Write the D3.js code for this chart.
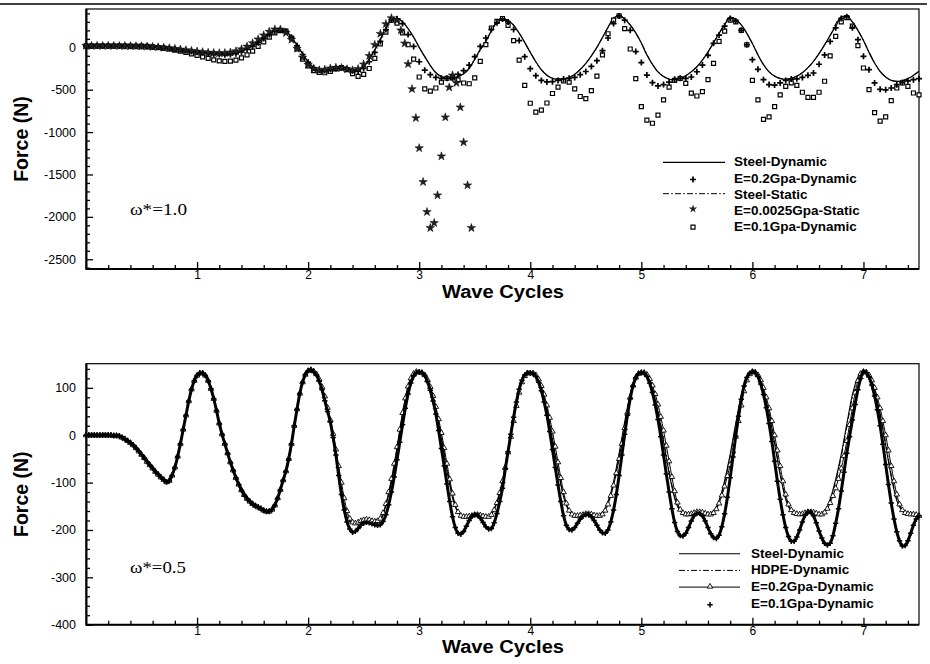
<!DOCTYPE html>
<html lang="en">
<head>
<meta charset="utf-8">
<title>Force vs Wave Cycles</title>
<script src="https://cdn.jsdelivr.net/npm/d3@7"></script>
<style>
  body { margin: 0; background: #fff; }
</style>
</head>
<body>
<script>
// ---------------- data ----------------
// upper panel (omega* = 1.0), sampled every 0.05 wave cycles
var stepTop = 0.05;
var steelDynTop = [
  15,15,15,15,15,15,15,14,14,13,  12,10,7,3,-3,-10,-18,-26,-34,-42,
  -50,-57,-63,-68,-72,-74,-72,-62,-45,-18,  18,62,110,155,190,205,190,118,25,-75,
  -170,-240,-275,-282,-270,-255,-245,-250,-265,-270,  -230,-135,-30,90,220,330,338,300,220,120,
  0,-110,-215,-300,-345,-362,-360,-345,-312,-250,  -140,-25,70,195,295,337,318,258,168,58,
  -60,-170,-265,-330,-365,-376,-374,-355,-318,-262,  -190,-100,0,115,235,345,375,335,263,170,
  50,-90,-200,-290,-345,-375,-386,-370,-335,-288,  -229,-150,-55,55,165,265,355,330,265,165,
  45,-90,-205,-290,-340,-368,-375,-365,-340,-300,  -240,-165,-75,30,140,250,360,370,300,200,
  80,-60,-185,-285,-350,-390,-401,-395,-370,-330,  -283
];
var e02Top = [
  15,16,16,16,16,15,15,14,13,12,  10,7,4,0,-6,-13,-21,-30,-39,-48,
  -57,-65,-73,-80,-85,-88,-86,-75,-55,-25,  12,55,105,150,190,208,188,120,20,-85,
  -175,-240,-268,-272,-262,-250,-245,-255,-275,-280,  -250,-170,-60,70,210,325,335,280,150,10,
  -170,-270,-323,-355,-365,-365,-360,-320,-275,-210,  -110,10,110,210,290,335,300,210,80,-110,
  -252,-335,-390,-408,-405,-390,-374,-365,-355,-323,  -285,-225,-158,-40,110,280,370,320,200,-50,
  -180,-327,-417,-456,-440,-410,-378,-366,-366,-350,  -288,-209,-95,47,145,250,340,310,200,30,
  -146,-260,-382,-440,-445,-420,-390,-375,-372,-355,  -330,-303,-200,-90,70,230,340,360,230,90,
  -106,-264,-420,-495,-502,-480,-441,-415,-395,-382,  -370
];
var e01Top = [
  18,18,18,18,18,18,17,16,15,14,  13,10,5,-2,-10,-20,-32,-45,-60,-78,
  -95,-112,-130,-147,-160,-165,-163,-150,-125,-90,  -45,10,65,120,170,196,190,110,-20,-140,
  -220,-275,-295,-300,-285,-255,-240,-262,-310,-342,  -320,-250,-130,40,180,320,285,170,30,-140,
  -350,-490,-517,-480,-410,-365,-360,-385,-421,-430,  -360,-166,31,228,307,340,260,80,-150,-450,
  -660,-765,-740,-657,-545,-470,-395,-410,-490,-580,  -605,-510,-340,-90,160,320,370,220,-20,-370,
  -700,-860,-896,-800,-621,-470,-390,-368,-425,-540,  -574,-523,-380,-190,70,190,320,300,200,30,
  -390,-620,-850,-820,-700,-560,-460,-420,-450,-530,  -590,-590,-530,-400,-100,130,300,350,250,20,
  -244,-500,-770,-870,-820,-630,-480,-421,-460,-539,  -560
];
// steel static, every 0.1 cycles
var stepStatic = 0.1;
var steelStaticTop = [
  15,15,15,15,14,12,7,-3,-18,-34,
  -50,-63,-72,-72,-45,18,110,190,190,25,
  -170,-275,-270,-245,-265,-230,-30,220,338,220,
  0,-215,-345,-360,-312,-140,70,295,318,168,
  -60,-265,-365,-374,-318,-190,0,235,375,263,
  50,-200,-345,-386,-335,-229,-55,165,355,265,
  45,-205,-340,-375,-340,-240,-75,140,360,300,
  80,-185,-350,-401,-370,-283
];
// E=0.0025Gpa static diverges after the third cycle
var starT = [
  0,0.05,0.1,0.15,0.2,0.25,0.3,0.35,0.4,0.45,0.5,0.55,0.6,0.65,0.7,0.75,0.8,0.85,0.9,0.95,
  1,1.05,1.1,1.15,1.2,1.25,1.3,1.35,1.4,1.45,1.5,1.55,1.6,1.65,1.7,1.75,1.8,1.85,1.9,1.95,
  2,2.05,2.1,2.15,2.2,2.25,2.3,2.35,2.4,2.45,2.5,2.55,2.6,2.65,2.7,2.75,2.8,
  2.835,2.87,2.9,2.935,2.97,3,3.035,3.07,3.1,3.135,3.165,3.2,3.235,3.27,3.3,3.335,3.37,3.4,3.435,3.47
];
var starF = [
  18,18,18,18,18,18,17,16,15,14,  12,10,6,2,-4,-10,-17,-25,-33,-41,
  -49,-56,-62,-66,-68,-67,-60,-45,-22,10,  50,95,142,185,212,210,170,90,-15,-120,
  -205,-255,-270,-262,-248,-240,-243,-258,-270,-255,  -200,-100,30,160,275,345,320,
  200,47,-197,-492,-834,-1189,-1588,-1942,-2131,-2072,-1745,-1285,-825,-472,-330,-420,-708,-1120,-1627,-2131
];

// lower panel (omega* = 0.5)
var stepBot = 0.05;
var steelDynBot = [
  0,0,0,0,0,-1,-2,-8,-16,-27,-41,-56,-70,-83,-95,-97,-68,-18,42,97,
  126,131,115,77,25,-18,-57,-90,-116,-134,-145,-152,-159,-161,-148,-115,-76,-18,55,112,
  136,135,116,76,30,-36,-118,-172,-185,-184,-180,-179,-181,-178,-148,-97,-30,45,104,130,
  134,127,98,55,-8,-75,-132,-163,-171,-170,-168,-169,-171,-165,-140,-95,-28,40,96,127,
  132,126,97,53,-10,-75,-130,-160,-169,-169,-166,-167,-169,-163,-140,-98,-38,28,88,124,
  133,126,96,50,-14,-80,-133,-160,-167,-167,-163,-164,-167,-162,-138,-96,-40,25,85,122,
  135,126,94,46,-18,-84,-136,-160,-166,-166,-162,-163,-166,-160,-135,-93,-40,24,85,123,
  135,125,92,43,-22,-88,-138,-160,-166,-167,-170
];
var hdpeDynBot = [
  0,0,0,0,0,-1,-2,-8,-16,-27,-41,-56,-70,-83,-95,-97,-68,-18,42,97,
  126,131,115,77,25,-18,-57,-90,-116,-134,-145,-152,-159,-161,-148,-115,-76,-18,55,112,
  136,135,116,78,33,-32,-112,-168,-184,-184,-180,-179,-181,-179,-150,-100,-34,40,100,129,
  134,128,100,58,-3,-70,-128,-161,-171,-171,-168,-168,-171,-166,-142,-98,-32,35,92,125,
  132,127,99,56,-5,-70,-127,-159,-169,-169,-166,-166,-169,-164,-142,-101,-42,24,84,122,
  133,127,98,53,-9,-75,-130,-159,-167,-167,-163,-164,-167,-163,-140,-100,-45,20,80,120,
  135,127,96,49,-13,-79,-133,-159,-166,-166,-162,-163,-166,-161,-138,-97,-45,18,80,121,
  135,126,94,46,-17,-83,-135,-159,-166,-167,-170
];
// marker series, every 0.025 cycles
var stepFine = 0.025;
var e02Bot = [
  0,0,0,0,0,0,0,0,0,0,  -1,-1,-2,-5,-8,-12,-16,-21,-27,-34,
  -41,-48,-56,-63,-70,-77,-83,-89,-94,-99,  -96,-85,-68,-45,-18,12,42,72,97,115,
  126,131,131,126,115,98,77,52,25,2,  -18,-38,-57,-74,-90,-104,-116,-126,-134,-140,
  -145,-149,-152,-155,-159,-161,-161,-157,-148,-133,  -115,-95,-76,-50,-18,20,55,88,112,128,
  136,138,135,129,118,102,82,58,32,3,  -30,-65,-100,-133,-160,-176,-184,-186,-184,-181,
  -179,-178,-179,-181,-182,-181,-176,-164,-145,-120,  -92,-60,-25,12,47,78,103,120,130,134,
  133,132,127,117,102,83,60,34,5,-27,  -60,-93,-123,-147,-162,-170,-172,-172,-171,-170,
  -168,-168,-169,-171,-172,-172,-168,-158,-143,-122,  -97,-68,-36,-3,30,62,90,112,125,131,
  131,131,127,118,104,86,63,37,8,-24,  -57,-90,-120,-144,-159,-167,-170,-170,-169,-168,
  -166,-166,-167,-169,-170,-170,-167,-159,-146,-128,  -106,-80,-50,-18,15,48,80,105,122,130,
  132,132,128,119,105,87,65,39,10,-22,  -55,-88,-118,-142,-157,-164,-167,-167,-166,-164,
  -162,-162,-163,-165,-167,-167,-164,-156,-144,-127,  -108,-86,-62,-34,-3,30,63,93,116,129,
  134,133,127,116,100,80,57,30,0,-32,  -65,-97,-125,-146,-158,-164,-166,-167,-166,-164,
  -162,-162,-163,-165,-167,-167,-163,-155,-143,-128,  -112,-92,-70,-44,-12,22,57,90,115,130,
  134,133,127,116,100,80,57,30,0,-32,  -65,-97,-125,-146,-158,-164,-166,-167,-167,-168,-170
];
var e01Bot = [
  0,0,0,0,0,0,0,0,0,0,  -1,-1,-2,-5,-8,-12,-16,-21,-27,-34,
  -41,-48,-56,-63,-70,-77,-83,-89,-94,-99,  -96,-85,-68,-45,-18,12,42,72,97,115,
  126,131,131,126,115,98,77,52,25,2,  -18,-38,-57,-74,-90,-104,-116,-126,-134,-140,
  -145,-149,-152,-155,-159,-161,-161,-157,-148,-133,  -115,-95,-76,-50,-18,20,55,88,112,128,
  136,138,134,127,114,96,73,50,28,-5,  -42,-85,-125,-158,-183,-198,-205,-203,-197,-190,
  -186,-184,-185,-187,-189,-190,-189,-182,-168,-147,  -120,-88,-52,-15,22,57,87,110,125,132,
  133,132,126,113,95,72,45,10,-28,-65,  -103,-140,-172,-195,-207,-209,-203,-192,-180,-171,
  -168,-169,-175,-184,-193,-198,-197,-185,-165,-140,  -112,-72,-35,2,38,70,97,116,127,132,
  131,130,124,112,94,70,42,8,-30,-68,  -105,-140,-170,-190,-199,-200,-195,-186,-177,-171,
  -168,-168,-172,-180,-190,-200,-206,-207,-200,-183,  -158,-125,-85,-42,2,42,77,104,121,130,
  132,131,124,110,90,64,33,-3,-42,-82,  -120,-155,-184,-203,-212,-213,-207,-195,-181,-170,
  -165,-165,-170,-181,-195,-208,-216,-218,-211,-193,  -166,-131,-90,-46,-2,40,76,104,122,131,
  134,132,124,108,86,58,25,-13,-55,-97,  -135,-168,-195,-214,-224,-224,-215,-200,-183,-169,
  -162,-162,-170,-185,-202,-217,-228,-232,-228,-212,  -186,-155,-118,-78,-38,-3,32,65,96,120,
  134,132,123,106,83,54,20,-19,-62,-104,  -143,-177,-204,-223,-234,-233,-223,-207,-190,-177,-170
];

var xTicks = [1, 2, 3, 4, 5, 6, 7];
var yTicksTop = [0, -500, -1000, -1500, -2000, -2500];
var yTicksBot = [100, 0, -100, -200, -300, -400];

// ---------------- drawing ----------------
var width = 930, height = 664;
var sans = "'Liberation Sans', Arial, Helvetica, sans-serif";

var svg = d3.select("body").append("svg")
    .attr("width", width)
    .attr("height", height);

svg.append("rect").attr("width", width).attr("height", height).attr("fill", "#fff");

// page rule along the top
svg.append("line")
    .attr("x1", 0).attr("x2", 927)
    .attr("y1", 4).attr("y2", 4)
    .attr("stroke", "#000").attr("stroke-width", 1.5);

var x = d3.scaleLinear().domain([0, 7.5]).range([86, 919]);

function grid(step, n) {
    return d3.range(n).map(function(i){ return +(i * step).toFixed(4); });
}

function minorTicks(lo, hi, step, majors) {
    return d3.range(lo, hi + step / 2, step)
        .map(function(v){ return +v.toFixed(4); })
        .filter(function(v){ return majors.indexOf(v) < 0; });
}

function drawAxes(y, top, bottom, yMajor, yMinor) {
    var g = svg.append("g");
    // minor ticks first
    g.append("g").attr("transform", "translate(86,0)")
        .call(d3.axisLeft(y).tickValues(yMinor).tickSize(-4).tickFormat(""))
        .call(function(a){ a.select(".domain").remove(); });
    g.append("g").attr("transform", "translate(0," + bottom + ")")
        .call(d3.axisBottom(x).tickValues(minorTicks(0.2, 7.4, 0.2, xTicks)).tickSize(-4).tickFormat(""))
        .call(function(a){ a.select(".domain").remove(); });

    var ya = g.append("g").attr("transform", "translate(86,0)")
        .call(d3.axisLeft(y).tickValues(yMajor).tickSize(-7).tickPadding(10)
            .tickFormat(function(d){ return String(d); }));
    ya.select(".domain").remove();
    ya.selectAll("text").attr("font-size", 12.5).attr("font-family", sans).attr("fill", "#000");

    var xa = g.append("g").attr("transform", "translate(0," + bottom + ")")
        .call(d3.axisBottom(x).tickValues(xTicks).tickSize(-7).tickPadding(1.5));
    xa.select(".domain").remove();
    xa.selectAll("text").attr("font-size", 12).attr("font-family", sans).attr("fill", "#000");

    g.selectAll(".tick line").attr("stroke", "#000").attr("stroke-width", 1.3);

    // frame
    g.append("rect")
        .attr("x", 86).attr("y", top)
        .attr("width", 833).attr("height", bottom - top)
        .attr("fill", "none").attr("stroke", "#000").attr("stroke-width", 1.2);
    g.append("line").attr("x1", 86.5).attr("x2", 86.5).attr("y1", top).attr("y2", bottom + 1)
        .attr("stroke", "#000").attr("stroke-width", 2);
    g.append("line").attr("x1", 86).attr("x2", 919).attr("y1", bottom).attr("y2", bottom)
        .attr("stroke", "#000").attr("stroke-width", 2);

    svg.append("text")
        .attr("x", 503).attr("y", bottom + 28.5)
        .attr("text-anchor", "middle")
        .attr("font-family", sans).attr("font-weight", "bold")
        .attr("font-size", 17.5)
        .attr("textLength", 122).attr("lengthAdjust", "spacingAndGlyphs")
        .text("Wave Cycles");
    svg.append("text")
        .attr("transform", "translate(28," + ((top + bottom) / 2) + ") rotate(-90)")
        .attr("text-anchor", "middle")
        .attr("font-family", sans).attr("font-weight", "bold")
        .attr("font-size", 19.5)
        .text("Force (N)");
}

function lineOf(y, ts) {
    return d3.line()
        .x(function(d, i){ return x(ts[i]); })
        .y(function(d){ return y(d); })
        .curve(d3.curveMonotoneX);
}

function plusMarks(g, y, ts, vs, r, w) {
    g.append("g").selectAll("path").data(vs).join("path")
        .attr("transform", function(d, i){ return "translate(" + x(ts[i]) + "," + y(d) + ")"; })
        .attr("d", "M" + (-r) + ",0H" + r + "M0," + (-r) + "V" + r)
        .attr("fill", "none").attr("stroke", "#000").attr("stroke-width", w);
}

function symbolMarks(g, y, ts, vs, type, size, fill, w) {
    g.append("g").selectAll("path").data(vs).join("path")
        .attr("transform", function(d, i){ return "translate(" + x(ts[i]) + "," + y(d) + ")"; })
        .attr("d", d3.symbol(type, size)())
        .attr("fill", fill).attr("stroke", "#000").attr("stroke-width", w);
}

function legendText(g, tx, ty, label) {
    g.append("text").attr("x", tx).attr("y", ty + 5)
        .attr("font-family", sans).attr("font-weight", "bold").attr("font-size", 13.5)
        .text(label);
}

var dashDot = "6,2.2,1.6,2.2";

// ===== upper panel =====
var topY0 = 9, topY1 = 269;
var yTop = d3.scaleLinear().domain([-2615, 452]).range([topY1, topY0]);
drawAxes(yTop, topY0, topY1, yTicksTop, minorTicks(-2600, 400, 100, yTicksTop));

var tTop = grid(stepTop, steelDynTop.length);
var tStatic = grid(stepStatic, steelStaticTop.length);
var gTop = svg.append("g");

gTop.append("path").datum(steelStaticTop)
    .attr("d", lineOf(yTop, tStatic))
    .attr("fill", "none").attr("stroke", "#000").attr("stroke-width", 1)
    .attr("stroke-dasharray", dashDot);
gTop.append("path").datum(steelDynTop)
    .attr("d", lineOf(yTop, tTop))
    .attr("fill", "none").attr("stroke", "#000").attr("stroke-width", 1.3);
symbolMarks(gTop, yTop, tTop, e01Top, d3.symbolSquare, 16, "#fff", 1.2);
plusMarks(gTop, yTop, tTop, e02Top, 3, 1.7);
symbolMarks(gTop, yTop, starT, starF, d3.symbolStar, 22, "#222", 0.5);

svg.append("text").attr("x", 130).attr("y", 215)
    .attr("font-family", "'Liberation Serif', 'Times New Roman', serif")
    .attr("font-size", 17).attr("textLength", 57).attr("lengthAdjust", "spacingAndGlyphs")
    .text("ω*=1.0");

// legend, upper panel
var lgTop = svg.append("g");
var rowsTop = [161.3, 177.5, 193.7, 209.9, 226.1];
var namesTop = ["Steel-Dynamic", "E=0.2Gpa-Dynamic", "Steel-Static", "E=0.0025Gpa-Static", "E=0.1Gpa-Dynamic"];
namesTop.forEach(function(n, i){ legendText(lgTop, 734, rowsTop[i], n); });
lgTop.append("line").attr("x1", 663).attr("x2", 725).attr("y1", rowsTop[0] + 1).attr("y2", rowsTop[0] + 1)
    .attr("stroke", "#000").attr("stroke-width", 1.2);
lgTop.append("path").attr("transform", "translate(693," + (rowsTop[1] + 2) + ")")
    .attr("d", "M-3,0H3M0,-3V3").attr("stroke", "#000").attr("stroke-width", 1.7);
lgTop.append("line").attr("x1", 663).attr("x2", 725).attr("y1", rowsTop[2]).attr("y2", rowsTop[2])
    .attr("stroke", "#000").attr("stroke-width", 1).attr("stroke-dasharray", dashDot);
lgTop.append("path").attr("transform", "translate(693," + (rowsTop[3] - 1) + ")")
    .attr("d", d3.symbol(d3.symbolStar, 22)()).attr("fill", "#222");
lgTop.append("path").attr("transform", "translate(693," + (rowsTop[4] + 1) + ")")
    .attr("d", d3.symbol(d3.symbolSquare, 16)()).attr("fill", "#fff").attr("stroke", "#000").attr("stroke-width", 1.2);

// ===== lower panel =====
var botY0 = 363.7, botY1 = 624.7;
var yBot = d3.scaleLinear().domain([-400, 151]).range([botY1, botY0]);
drawAxes(yBot, botY0, botY1, yTicksBot, minorTicks(-380, 140, 20, yTicksBot));

var tBot = grid(stepBot, steelDynBot.length);
var tFine = grid(stepFine, e01Bot.length);
var gBot = svg.append("g");

gBot.append("path").datum(hdpeDynBot)
    .attr("d", lineOf(yBot, tBot))
    .attr("fill", "none").attr("stroke", "#000").attr("stroke-width", 1)
    .attr("stroke-dasharray", dashDot);
gBot.append("path").datum(steelDynBot)
    .attr("d", lineOf(yBot, tBot))
    .attr("fill", "none").attr("stroke", "#000").attr("stroke-width", 1.1);
gBot.append("path").datum(e02Bot)
    .attr("d", lineOf(yBot, tFine))
    .attr("fill", "none").attr("stroke", "#000").attr("stroke-width", 1);
symbolMarks(gBot, yBot, tFine, e02Bot, d3.symbolTriangle, 13, "#fff", 0.9);
// the E=0.1 markers sit so close together that they read as a heavy band
gBot.append("path").datum(e01Bot)
    .attr("d", lineOf(yBot, tFine))
    .attr("fill", "none").attr("stroke", "#000").attr("stroke-width", 3);
plusMarks(gBot, yBot, tFine, e01Bot, 2.7, 1.5);

svg.append("text").attr("x", 130).attr("y", 573)
    .attr("font-family", "'Liberation Serif', 'Times New Roman', serif")
    .attr("font-size", 17).attr("textLength", 56).attr("lengthAdjust", "spacingAndGlyphs")
    .text("ω*=0.5");

var lgBot = svg.append("g");
var rowsBot = [552.7, 569.4, 586.1, 602.8];
var namesBot = ["Steel-Dynamic", "HDPE-Dynamic", "E=0.2Gpa-Dynamic", "E=0.1Gpa-Dynamic"];
namesBot.forEach(function(n, i){ legendText(lgBot, 751, rowsBot[i], n); });
lgBot.append("line").attr("x1", 679).attr("x2", 740).attr("y1", rowsBot[0] + 1).attr("y2", rowsBot[0] + 1)
    .attr("stroke", "#000").attr("stroke-width", 1.1);
lgBot.append("line").attr("x1", 679).attr("x2", 740).attr("y1", rowsBot[1] + 1).attr("y2", rowsBot[1] + 1)
    .attr("stroke", "#000").attr("stroke-width", 1).attr("stroke-dasharray", dashDot);
lgBot.append("line").attr("x1", 679).attr("x2", 740).attr("y1", rowsBot[2] + 1).attr("y2", rowsBot[2] + 1)
    .attr("stroke", "#000").attr("stroke-width", 1);
lgBot.append("path").attr("transform", "translate(710," + (rowsBot[2] + 0.5) + ")")
    .attr("d", d3.symbol(d3.symbolTriangle, 13)()).attr("fill", "#fff").attr("stroke", "#000").attr("stroke-width", 0.9);
lgBot.append("path").attr("transform", "translate(710," + (rowsBot[3] + 2) + ")")
    .attr("d", "M-2.7,0H2.7M0,-2.7V2.7").attr("stroke", "#000").attr("stroke-width", 1.5);
</script>
</body>
</html>
